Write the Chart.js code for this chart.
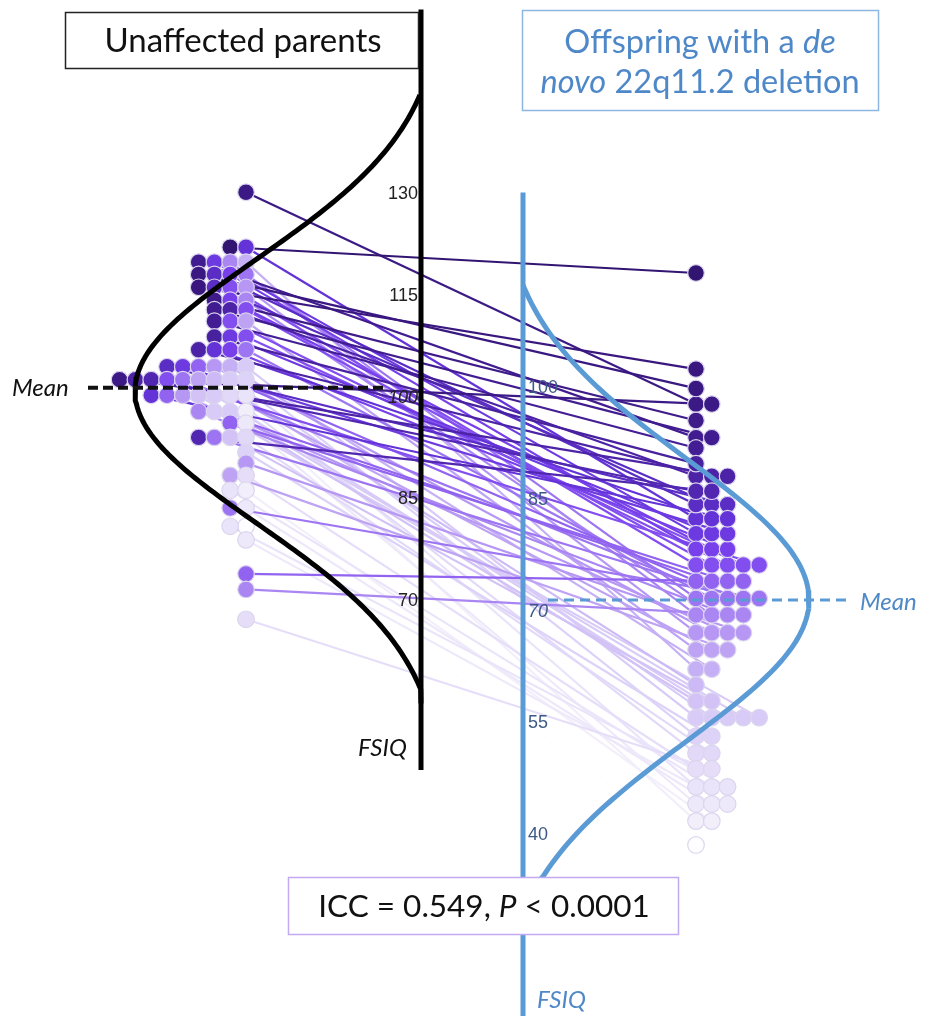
<!DOCTYPE html>
<html lang="en">
<head>
<meta charset="UTF-8">
<title>FSIQ of parents and offspring with 22q11.2 deletion</title>
<script src="https://cdn.jsdelivr.net/npm/chart.js"></script>
<style>
  html, body { margin: 0; padding: 0; background: #fff; }
  canvas { display: block; }
</style>
</head>
<body>
<canvas id="fsiqChart" width="936" height="1016" style="width:936px;height:1016px"></canvas>
<script>
// One entry per family: parent FSIQ and the FSIQ of their child (same index = one pair)
const parentIQ = [
  130.1,
  122.0, 122.0,
  119.8, 119.8, 119.8, 119.8,
  118.0, 118.0, 118.0, 118.0,
  116.1, 116.1, 116.1, 116.1,
  114.2, 114.2, 114.2,
  112.8, 112.8, 112.8,
  111.1, 111.1, 111.1,
  108.8, 108.8, 108.8,
  106.9, 106.9, 106.9, 106.9,
  104.4, 104.4, 104.4, 104.4, 104.4, 104.4,
  102.5, 102.5, 102.5, 102.5, 102.5, 102.5, 102.5, 102.5, 102.5,
  100.2, 100.2, 100.2, 100.2, 100.2, 100.2, 100.2,
  97.8, 97.8, 97.8, 97.8,
  96.1, 96.1,
  94.0, 94.0, 94.0, 94.0,
  91.8,
  90.2,
  88.4, 88.4,
  86.2, 86.2,
  83.6, 83.6,
  80.9, 80.9,
  78.9,
  73.9,
  71.6,
  67.2
];
const offspringIQ = [
  97.6,
  115.2, 82.2,
  93.1, 80.2, 69.3, 62.0,
  99.7, 84.1, 78.1, 71.5,
  102.3, 84.1, 76.0, 66.9,
  95.4, 78.1, 69.3,
  93.1, 87.9, 76.0,
  91.7, 76.0, 64.6,
  89.6, 80.2, 76.0,
  87.9, 82.2, 78.1, 71.5,
  84.1, 80.2, 73.8, 66.9, 62.0, 55.5,
  97.6, 87.9, 85.9, 76.0, 71.5, 64.6, 59.9, 55.5, 53.0,
  82.2, 73.8, 66.9, 57.7, 55.5, 50.7, 46.2,
  69.3, 55.5, 55.5, 41.6,
  73.8, 43.9,
  85.9, 71.5, 57.7, 50.7,
  53.0,
  66.9,
  64.6, 48.6,
  46.2, 41.6,
  71.5, 43.9,
  38.4, 46.2,
  43.9,
  73.8,
  69.3,
  48.6
];
const parentTicks = [130, 115, 100, 85, 70];
const offspringTicks = [100, 85, 70, 55, 40];
const parentMean = 101.3;
const offspringMean = 71.3;
// distribution curves: centre, spread and the FSIQ range they cover
const parentCurve = { mean: 100.8, sd: 19.5, from: 56.8, to: 144.4 };
const offspringCurve = { mean: 71.3, sd: 19, from: 33.7, to: 113.6 };
// colour of a dot / line depends on the child's FSIQ
const colourStops = [
  [38, '#ffffff'], [42, '#f1edfb'], [48, '#e7e0f9'], [55, '#d9cdf7'],
  [62, '#c6b0f5'], [67, '#b797f4'], [71, '#a079f2'], [74, '#9061f0'],
  [77, '#7c44ee'], [82, '#6534da'], [86, '#5026b0'], [92, '#421d92'],
  [100, '#3a1880'], [116, '#321470']
];

// ---- layout (canvas units) ----
const W = 936, H = 1016;
const parentAxisX = 421, offspringAxisX = 523;
const parentColX = 246, offspringColX = 696, dotStep = 15.8;
const curveDepth = 286;
const blue = '#5b9bd5';
const textBlue = '#4f88c8';

function hexRgb(h) {
  return [1, 3, 5].map(i => parseInt(h.substr(i, 2), 16));
}
function colourFor(v) {
  const s = colourStops;
  if (v <= s[0][0]) return hexRgb(s[0][1]);
  for (let i = 1; i < s.length; i++) {
    if (v <= s[i][0]) {
      const t = (v - s[i - 1][0]) / (s[i][0] - s[i - 1][0]);
      const a = hexRgb(s[i - 1][1]), b = hexRgb(s[i][1]);
      return a.map((c, k) => Math.round(c + (b[k] - c) * t));
    }
  }
  return hexRgb(s[s.length - 1][1]);
}

// dot plot stacking: column index of every dot inside its row
function stackIndex(rowVals, sortVals, ascending) {
  const idx = [];
  const groups = {};
  rowVals.forEach((v, i) => { (groups[v] = groups[v] || []).push(i); });
  Object.values(groups).forEach(g => {
    g.sort((a, b) => ascending ? sortVals[a] - sortVals[b] : sortVals[b] - sortVals[a]);
    g.forEach((i, k) => { idx[i] = k; });
  });
  return idx;
}
const parentX = stackIndex(parentIQ, offspringIQ, true).map(k => parentColX - k * dotStep);
const offspringX = stackIndex(offspringIQ, parentIQ, false).map(k => offspringColX + k * dotStep);
const dotRgb = offspringIQ.map(colourFor);
const dotFill = dotRgb.map(c => `rgb(${c[0]},${c[1]},${c[2]})`);

// density curve drawn sideways along an axis, baseline at the axis
function bellCurve(c, axisX, dir) {
  const g = v => Math.exp(-0.5 * Math.pow((v - c.mean) / c.sd, 2));
  const base = Math.min(g(c.from), g(c.to));
  const pts = [];
  for (let v = c.to; v >= c.from - 0.01; v -= 0.5) {
    pts.push({ x: axisX + dir * curveDepth * (g(v) - base) / (1 - base), y: v });
  }
  pts.push({ x: axisX, y: c.from - 2 });
  return pts;
}

const pairLines = {
  id: 'pairLines',
  beforeDatasetsDraw(chart) {
    const { ctx, scales } = chart;
    const order = offspringIQ.map((v, i) => i).sort((a, b) => offspringIQ[a] - offspringIQ[b]);
    ctx.save();
    ctx.lineWidth = 2.2;
    order.forEach(i => {
      const c = dotRgb[i];
      ctx.strokeStyle = `rgb(${c[0]},${c[1]},${c[2]})`;
      ctx.beginPath();
      ctx.moveTo(scales.x.getPixelForValue(parentX[i]), scales.yP.getPixelForValue(parentIQ[i]));
      ctx.lineTo(scales.x.getPixelForValue(offspringX[i]), scales.yO.getPixelForValue(offspringIQ[i]));
      ctx.stroke();
    });
    ctx.restore();
  }
};

function richText(ctx, parts, cx, y, size, family, colour) {
  let total = 0;
  const widths = parts.map(p => {
    ctx.font = (p[1] ? 'italic ' : '') + size + 'px ' + family;
    const w = ctx.measureText(p[0]).width;
    total += w;
    return w;
  });
  let x = cx - total / 2;
  ctx.fillStyle = colour;
  ctx.textAlign = 'left';
  ctx.textBaseline = 'alphabetic';
  parts.forEach((p, i) => {
    ctx.font = (p[1] ? 'italic ' : '') + size + 'px ' + family;
    ctx.fillText(p[0], x, y);
    x += widths[i];
  });
}

function box(ctx, x, y, w, h, stroke, lw) {
  ctx.fillStyle = '#fff';
  ctx.fillRect(x, y, w, h);
  ctx.strokeStyle = stroke;
  ctx.lineWidth = lw;
  ctx.strokeRect(x, y, w, h);
}

const labels = {
  id: 'labels',
  afterDatasetsDraw(chart) {
    const { ctx, scales } = chart;
    const font = 'Lato, "Open Sans", sans-serif';
    const tickFont = '"Liberation Sans", Arial, sans-serif';
    ctx.save();
    // axis ticks
    ctx.textBaseline = 'middle';
    ctx.textAlign = 'right';
    ctx.fillStyle = '#222';
    parentTicks.forEach(t => {
      ctx.font = (t === 100 ? 'italic ' : '') + '18px ' + tickFont;
      ctx.fillText(String(t), parentAxisX - 3, scales.yP.getPixelForValue(t) + 1);
    });
    ctx.textAlign = 'left';
    ctx.fillStyle = '#3d5a85';
    offspringTicks.forEach(t => {
      ctx.font = (t === 70 ? 'italic ' : '') + '18px ' + tickFont;
      ctx.fillText(String(t), offspringAxisX + 5, scales.yO.getPixelForValue(t) + 2);
    });
    // mean and axis names
    ctx.font = 'italic 24px ' + font;
    ctx.fillStyle = '#111';
    ctx.fillText('Mean', 12, scales.yP.getPixelForValue(parentMean));
    ctx.fillText('FSIQ', 358, 748);
    ctx.fillStyle = textBlue;
    ctx.fillText('Mean', 860, scales.yO.getPixelForValue(offspringMean) + 2);
    ctx.fillText('FSIQ', 537, 1000);

    // title boxes
    box(ctx, 65.5, 12.5, 353, 56, '#222', 1.5);
    richText(ctx, [['Unaffected parents', false]], 243, 52, 33, font, '#111');
    box(ctx, 522.5, 10.5, 356, 100, '#8db6e2', 1.5);
    richText(ctx, [['Offspring with a ', false], ['de', true]], 700, 53, 32.5, font, textBlue);
    richText(ctx, [['novo', true], [' 22q11.2 deletion', false]], 700, 93, 32.5, font, textBlue);
    box(ctx, 288.5, 877.5, 390, 57, '#c3a8f2', 1.5);
    richText(ctx, [['ICC = 0.549, ', false], ['P', true], [' < 0.0001', false]], 484, 917, 31.5, font, '#111');
    ctx.restore();
  }
};

const parentPoints = parentIQ.map((v, i) => ({ x: parentX[i], y: v }));
const offspringPoints = offspringIQ.map((v, i) => ({ x: offspringX[i], y: v }));

new Chart(document.getElementById('fsiqChart'), {
  type: 'scatter',
  data: {
    datasets: [
      { // dashed mean lines
        data: [{ x: 88, y: parentMean }, { x: 385, y: parentMean }],
        yAxisID: 'yP', showLine: true, pointRadius: 0,
        borderColor: '#111', borderWidth: 4, borderDash: [10, 5], order: 0
      },
      {
        data: [{ x: 548, y: offspringMean }, { x: 847, y: offspringMean }],
        yAxisID: 'yO', showLine: true, pointRadius: 0,
        borderColor: blue, borderWidth: 3, borderDash: [10, 6], order: 0
      },
      { // distribution curves
        data: bellCurve(parentCurve, parentAxisX, -1),
        yAxisID: 'yP', showLine: true, pointRadius: 0,
        borderColor: '#000', borderWidth: 5, order: 1
      },
      {
        data: bellCurve(offspringCurve, offspringAxisX, 1),
        yAxisID: 'yO', showLine: true, pointRadius: 0,
        borderColor: blue, borderWidth: 5, order: 1
      },
      { // axes
        data: [{ x: parentAxisX, y: 157 }, { x: parentAxisX, y: 45 }],
        yAxisID: 'yP', showLine: true, pointRadius: 0,
        borderColor: '#000', borderWidth: 5, order: 2
      },
      {
        data: [{ x: offspringAxisX, y: 126 }, { x: offspringAxisX, y: 10 }],
        yAxisID: 'yO', showLine: true, pointRadius: 0,
        borderColor: blue, borderWidth: 5, order: 2
      },
      { // dots
        data: parentPoints, yAxisID: 'yP',
        pointRadius: 8.3, pointBackgroundColor: dotFill,
        pointBorderColor: '#dcd5ee', pointBorderWidth: 1.2, order: 3
      },
      {
        data: offspringPoints, yAxisID: 'yO',
        pointRadius: 8.3, pointBackgroundColor: dotFill,
        pointBorderColor: '#dcd5ee', pointBorderWidth: 1.2, order: 3
      }
    ]
  },
  options: {
    responsive: false,
    animation: false,
    layout: { padding: 0, autoPadding: false },
    plugins: { legend: { display: false }, tooltip: { enabled: false } },
    scales: {
      x: { type: 'linear', min: 0, max: W, display: false },
      yP: { type: 'linear', min: 8.78, max: 158.41, display: false },
      yO: { type: 'linear', min: 15.43, max: 151.86, display: false }
    }
  },
  plugins: [pairLines, labels]
});
</script>
</body>
</html>
